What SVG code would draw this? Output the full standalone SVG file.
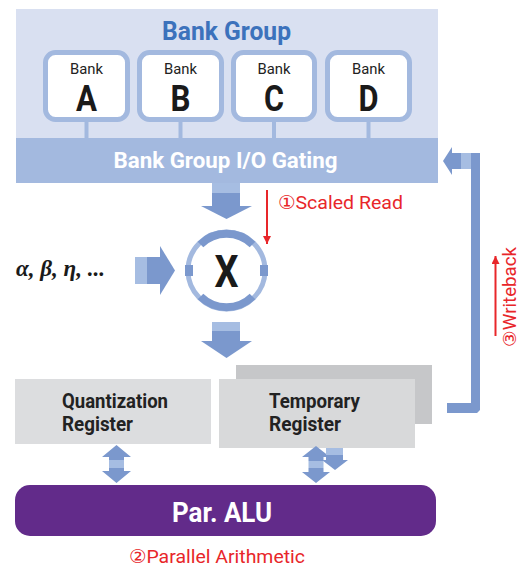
<svg xmlns="http://www.w3.org/2000/svg" width="520" height="568" viewBox="0 0 520 568">
  <style>
    .bold { font-family: Roboto, "Liberation Sans", "DejaVu Sans", sans-serif; font-weight: bold; }
    .reg { font-family: Roboto, "Liberation Sans", "DejaVu Sans", sans-serif; font-weight: normal; }
    .thin { font-family: Roboto, "Liberation Sans", "DejaVu Sans", sans-serif; font-weight: normal; fill: #e8262a; }
    .bankbox { fill: #ffffff; stroke: #a3b9df; stroke-width: 5; }
    .stub { fill: #a3b9df; }
    .dark { fill: #7b98cd; }
    .light { fill: #a6bde2; }
    .bank-lbl { font-size: 15px; fill: #222222; text-anchor: middle; }
    .bank-id { font-size: 36px; fill: #1a1a1a; text-anchor: middle; }
    .reg-lbl { font-size: 20px; fill: #222222; }
  </style>
  <defs>
    <marker id="redhead" markerWidth="8" markerHeight="8" refX="8" refY="4" orient="auto" markerUnits="userSpaceOnUse" viewBox="0 0 8 8">
      <path d="M0,0 L8,4 L0,8 Z" fill="#e8262a"/>
    </marker>
  </defs>

  <!-- Bank group container -->
  <g id="bank-group">
    <rect x="16" y="9" width="422" height="174" fill="#d9e0f1"/>
    <text class="bold" x="226.5" y="40" font-size="25" fill="#3c72bc" text-anchor="middle" textLength="129" lengthAdjust="spacingAndGlyphs">Bank Group</text>
  </g>

  <g id="bank-a">
    <rect class="bankbox" x="45.5" y="52.5" width="82" height="67" rx="10"/>
    <rect class="stub" x="84.5" y="122" width="4" height="17"/>
    <text class="reg bank-lbl" x="86.5" y="74" textLength="33" lengthAdjust="spacingAndGlyphs">Bank</text>
    <text class="bold bank-id" x="86.5" y="111" textLength="21" lengthAdjust="spacingAndGlyphs">A</text>
  </g>
  <g id="bank-b">
    <rect class="bankbox" x="139.5" y="52.5" width="82" height="67" rx="10"/>
    <rect class="stub" x="178.5" y="122" width="4" height="17"/>
    <text class="reg bank-lbl" x="180.5" y="74" textLength="33" lengthAdjust="spacingAndGlyphs">Bank</text>
    <text class="bold bank-id" x="180.5" y="111" textLength="20" lengthAdjust="spacingAndGlyphs">B</text>
  </g>
  <g id="bank-c">
    <rect class="bankbox" x="233.5" y="52.5" width="81" height="67" rx="10"/>
    <rect class="stub" x="272" y="122" width="4" height="17"/>
    <text class="reg bank-lbl" x="274" y="74" textLength="33" lengthAdjust="spacingAndGlyphs">Bank</text>
    <text class="bold bank-id" x="274" y="111" textLength="20" lengthAdjust="spacingAndGlyphs">C</text>
  </g>
  <g id="bank-d">
    <rect class="bankbox" x="327.5" y="52.5" width="82" height="67" rx="10"/>
    <rect class="stub" x="366.5" y="122" width="4" height="17"/>
    <text class="reg bank-lbl" x="368.5" y="74" textLength="33" lengthAdjust="spacingAndGlyphs">Bank</text>
    <text class="bold bank-id" x="368.5" y="111" textLength="20" lengthAdjust="spacingAndGlyphs">D</text>
  </g>

  <g id="io-gating">
    <rect x="16" y="138" width="422" height="45" fill="#a3b9df"/>
    <text class="bold" x="225.5" y="168" font-size="22" fill="#ffffff" text-anchor="middle" textLength="224" lengthAdjust="spacingAndGlyphs">Bank Group I/O Gating</text>
  </g>

  <!-- Multiplier -->
  <g id="multiplier">
    <circle cx="226.5" cy="270.5" r="38.5" fill="#ffffff" stroke="#a3b9df" stroke-width="5"/>
    <!-- heavier arcs top and bottom, ±44° -->
    <path d="M200.5,244.5 A37 37 0 0 1 252.5,244.5" fill="none" stroke="#7b98cd" stroke-width="8"/>
    <path d="M200.5,296.5 A37 37 0 0 0 252.5,296.5" fill="none" stroke="#7b98cd" stroke-width="8"/>
    <rect class="dark" x="185" y="265" width="8" height="11"/>
    <rect class="dark" x="260" y="265" width="8" height="11"/>
    <text class="bold" x="226.5" y="287" font-size="44" fill="#1a1a1a" text-anchor="middle" textLength="24" lengthAdjust="spacingAndGlyphs">X</text>
  </g>

  <g id="scalars">
    <text x="16" y="276" font-family="'Liberation Serif', 'DejaVu Serif', serif" font-weight="bold" font-style="italic" font-size="23" fill="#1a1a1a" textLength="89" lengthAdjust="spacingAndGlyphs">α, β, η, ...</text>
  </g>

  <g id="quant-register">
    <rect x="15" y="379" width="196" height="65" fill="#dcdddf"/>
    <text class="bold reg-lbl" x="62" y="408" textLength="106" lengthAdjust="spacingAndGlyphs">Quantization</text>
    <text class="bold reg-lbl" x="62" y="431" textLength="71" lengthAdjust="spacingAndGlyphs">Register</text>
  </g>

  <g id="temp-register">
    <rect x="236" y="365" width="196" height="59" fill="#c6c7c9"/>
    <rect x="219" y="379" width="196" height="69" fill="#d8d9da"/>
    <text class="bold reg-lbl" x="269" y="408" textLength="91" lengthAdjust="spacingAndGlyphs">Temporary</text>
    <text class="bold reg-lbl" x="269" y="431" textLength="72" lengthAdjust="spacingAndGlyphs">Register</text>
  </g>

  <g id="par-alu">
    <rect x="15" y="485" width="421" height="51" rx="15" fill="#622b8a"/>
    <text class="bold" x="222" y="522" font-size="28" fill="#ffffff" text-anchor="middle" textLength="100" lengthAdjust="spacingAndGlyphs">Par. ALU</text>
  </g>

  <!-- Connectors -->
  <g id="connectors">
    <!-- gating to multiplier -->
    <rect class="light" x="212" y="183" width="28" height="10"/>
    <rect class="dark" x="212" y="193" width="28" height="13"/>
    <polygon class="dark" points="201,206 252,206 226.5,219"/>

    <!-- scalars into multiplier -->
    <rect class="light" x="135" y="257" width="12" height="27"/>
    <rect class="dark" x="147" y="257" width="13" height="27"/>
    <polygon class="dark" points="160,246 175,270.5 160,295"/>

    <!-- multiplier to registers -->
    <rect class="light" x="212" y="322" width="28" height="9"/>
    <rect class="dark" x="212" y="331" width="28" height="10"/>
    <polygon class="dark" points="201,341 252,341 226.5,358"/>

    <!-- quantization register <-> ALU -->
    <polygon class="dark" points="116.5,445 131,457 124,457 124,460 109,460 109,457 102,457"/>
    <rect class="light" x="109" y="460" width="15" height="8"/>
    <polygon class="dark" points="109,468 124,468 124,471 131,471 116.5,483 102,471 109,471"/>

    <!-- temporary register <-> ALU -->
    <polygon class="dark" points="316,446 330,457 323.5,457 323.5,461 308.5,461 308.5,457 302,457"/>
    <rect class="light" x="308.5" y="461" width="15" height="7"/>
    <polygon class="dark" points="308.5,468 323.5,468 323.5,472 330,472 316,483 302,472 308.5,472"/>
    <!-- temporary register spill -->
    <rect class="light" x="326" y="448" width="17" height="7"/>
    <rect class="dark" x="326" y="455" width="17" height="5"/>
    <polygon class="dark" points="322,460 348,460 335,470"/>

    <!-- writeback loop -->
    <path class="dark" d="M447,403 L471,403 L471,153 L480,153 L480,410 L477,413 L447,413 Z"/>
    <rect class="light" x="461" y="153" width="10" height="16"/>
    <rect class="dark" x="452" y="153" width="9" height="16"/>
    <polygon class="dark" points="452,147 452,175 443,161"/>

    <!-- step annotations -->
    <line x1="267" y1="190" x2="267" y2="244" stroke="#e8262a" stroke-width="2" marker-end="url(#redhead)"/>
    <line x1="495.5" y1="336" x2="495.5" y2="256" stroke="#e8262a" stroke-width="2" marker-end="url(#redhead)"/>
  </g>

  <g id="annotations">
    <text class="thin" x="278" y="209" font-size="19" textLength="125" lengthAdjust="spacingAndGlyphs">①Scaled Read</text>
    <text class="thin" x="129" y="563" font-size="19" textLength="176" lengthAdjust="spacingAndGlyphs">②Parallel Arithmetic</text>
    <text class="thin" transform="translate(516,347) rotate(-90)" x="0" y="0" font-size="18" textLength="100" lengthAdjust="spacingAndGlyphs">③Writeback</text>
  </g>
</svg>
